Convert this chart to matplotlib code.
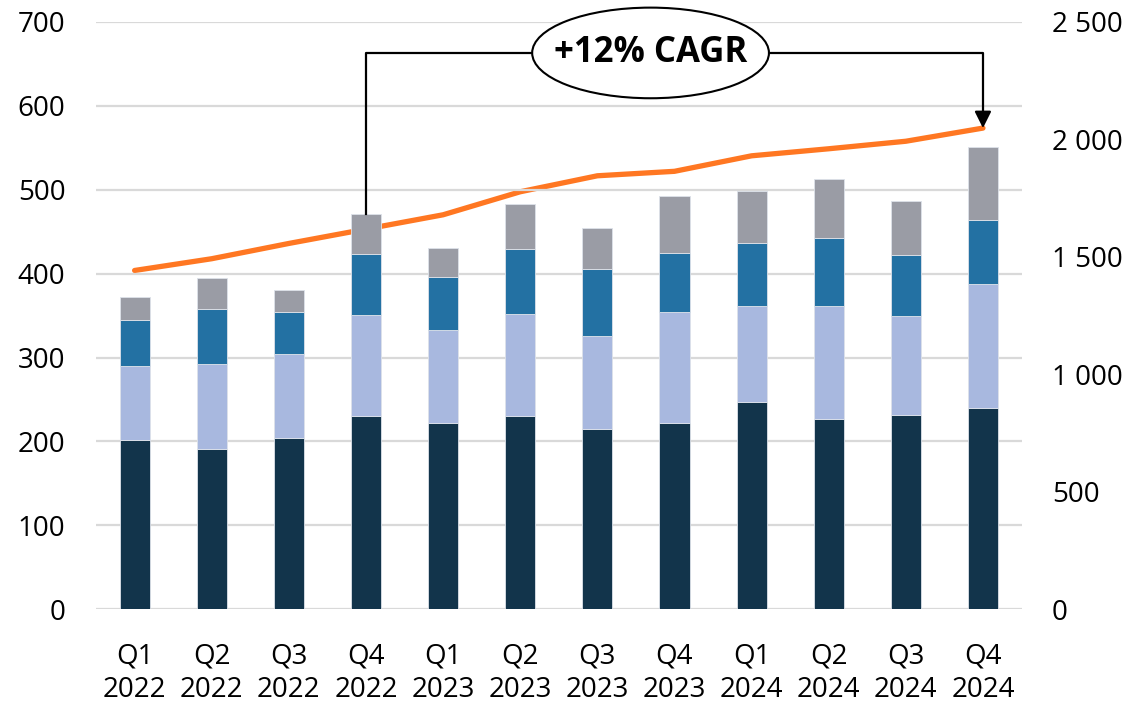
import matplotlib
matplotlib.use("Agg")
import matplotlib.pyplot as plt
from matplotlib.patches import Ellipse
import numpy as np

plt.rcParams['font.family'] = ['Open Sans', 'DejaVu Sans']

quarters = ["Q1", "Q2", "Q3", "Q4", "Q1", "Q2", "Q3", "Q4", "Q1", "Q2", "Q3", "Q4"]
years = ["2022"] * 4 + ["2023"] * 4 + ["2024"] * 4
labels = [f"{q}\n{y}" for q, y in zip(quarters, years)]

seg_dark = [202, 191, 204, 230, 222, 230, 215, 222, 247, 227, 232, 240]
seg_light = [88, 101, 100, 121, 111, 122, 111, 132, 115, 134, 118, 148]
seg_mid = [55, 66, 50, 72, 63, 77, 80, 71, 74, 82, 72, 76]
seg_gray = [27, 37, 27, 48, 35, 54, 48, 67, 62, 70, 64, 87]
line_vals = [1442, 1492, 1557, 1618, 1679, 1777, 1845, 1864, 1930, 1960, 1992, 2048]

left_ticks = [0, 100, 200, 300, 400, 500, 600, 700]
right_ticks = [0, 500, 1000, 1500, 2000, 2500]
right_labels = ["0", "500", "1 000", "1 500", "2 000", "2 500"]
cagr_text = "+12% CAGR"

colors = ["#12344b", "#a8b8df", "#2371a3", "#9a9ca5"]
orange = "#ff7722"

fig = plt.figure(figsize=(11.3, 7.06), dpi=100)
ax = fig.add_axes([0.085, 0.137, 0.819, 0.832])
ax2 = ax.twinx()

x = np.arange(len(labels))
bottom = np.zeros(len(labels))
for seg, c in zip([seg_dark, seg_light, seg_mid, seg_gray], colors):
    ax.bar(x, seg, width=0.39, bottom=bottom, color=c, edgecolor="#dde2ea",
           linewidth=0.6, zorder=3)
    bottom = bottom + np.array(seg)

ax2.plot(x, line_vals, color=orange, linewidth=3.8, solid_capstyle="round", zorder=4)

ax.set_xlim(-0.5, len(labels) - 0.5)
ax.set_ylim(0, 700)
ax2.set_ylim(0, 2500)
ax.set_yticks(left_ticks)
ax.set_yticklabels([str(t) for t in left_ticks])
ax2.set_yticks(right_ticks)
ax2.set_yticklabels(right_labels)
ax.set_xticks(x)
ax.set_xticklabels(labels, linespacing=1.25)

ax.grid(axis="y", color="#d9d9d9", linewidth=1.6, zorder=0)
ax.set_axisbelow(True)
for a in (ax, ax2):
    for s in a.spines.values():
        s.set_visible(False)
    a.tick_params(length=0, labelsize=20, colors="black")
ax.tick_params(axis="y", pad=22)
ax2.tick_params(axis="y", pad=22)
ax.tick_params(axis="x", pad=24)
ax.set_zorder(ax2.get_zorder() + 1)
ax.patch.set_visible(False)

# CAGR annotation
i0, i1 = 3, 11
y_start = bottom[i0]
y_top = 663
y_end = line_vals[i1] * 700 / 2500
ax.plot([i0, i0, i1, i1], [y_start, y_top, y_top, y_end + 16], color="black",
        linewidth=1.6, zorder=6, clip_on=False)
ax.annotate("", xy=(i1, y_end), xytext=(i1, y_end + 20),
            arrowprops=dict(arrowstyle="-|>,head_length=1.0,head_width=0.5",
                            color="black", lw=1.6, shrinkA=0, shrinkB=0),
            zorder=7, annotation_clip=False)
ell = Ellipse((6.69, y_top), width=3.07, height=108, facecolor="white",
              edgecolor="black", linewidth=1.5, zorder=8, clip_on=False)
ax.add_patch(ell)
ax.text(6.69, y_top, cagr_text, ha="center", va="center", fontsize=25,
        fontweight="bold", zorder=9)

fig.savefig("out.png", dpi=100)
